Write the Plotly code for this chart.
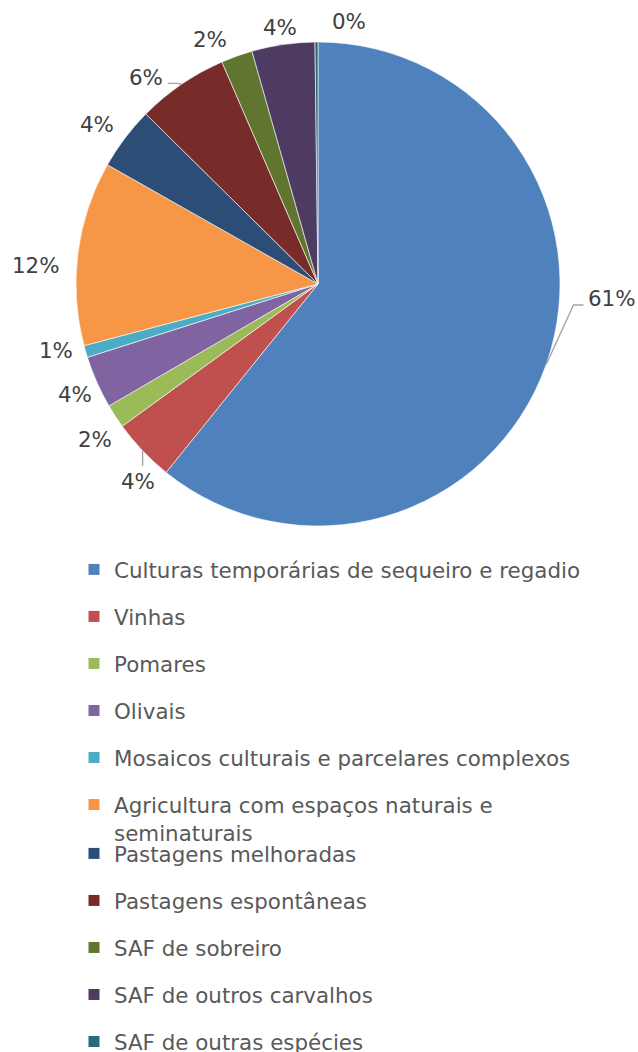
import math
import plotly.graph_objects as go

# Land-use classes and their share of area (%)
categories = [
    "Culturas temporárias de sequeiro e regadio",
    "Vinhas",
    "Pomares",
    "Olivais",
    "Mosaicos culturais e parcelares complexos",
    "Agricultura com espaços naturais e<br>seminaturais",
    "Pastagens melhoradas",
    "Pastagens espontâneas",
    "SAF de sobreiro",
    "SAF de outros carvalhos",
    "SAF de outras espécies",
]
shares = [60.8, 4.2, 1.6, 3.5, 0.8, 12.3, 4.2, 6.1, 2.1, 4.2, 0.2]
colors = [
    "#4F81BD", "#C0504D", "#9BBB59", "#8064A2", "#4BACC6", "#F79646",
    "#2C4D75", "#772C2A", "#5F7530", "#4D3B62", "#276A7C",
]

W, H = 638, 1052
cx, cy, r = 318, 284, 242          # pie centre and radius, px
LABEL_SIZE = 21.4
LABEL_GAP = 12                     # clearance between rim and label box
# extra displacement (px) for labels moved away from crowded spots
label_nudge = [(31, -78), (15, 12), (5, 7), (6, 0), (-1, -9), (-6, 17),
               (-5, 4), (-22, 13), (-19, 5), (0, 5), (33, 1)]
# labels joined to their slice by a leader line, and the label side it meets
leader_side = {0: "left", 1: "top", 7: "right"}


def px(x, y):
    return x / W, 1 - y / H


fig = go.Figure()
fig.add_trace(go.Pie(
    labels=categories,
    values=shares,
    sort=False,
    direction="clockwise",
    rotation=0,
    marker=dict(colors=colors, line=dict(color="white", width=0.6)),
    textinfo="none",
    showlegend=False,
    hoverinfo="label+percent",
    domain=dict(x=[(cx - r) / W, (cx + r) / W], y=[1 - (cy + r) / H, 1 - (cy - r) / H]),
))

# Percentage labels placed outside the rim at each slice's mid-angle
total = sum(shares)
cum = 0.0
annotations, shapes = [], []
for i, v in enumerate(shares):
    frac = v / total
    theta = 2 * math.pi * (cum + frac / 2)
    cum += frac
    s, c = math.sin(theta), math.cos(theta)
    text = f"{round(100 * frac)}%"
    w = sum(0.636 if ch.isdigit() else 0.951 for ch in text) * LABEL_SIZE
    hh = 10
    ext = min((w / 2) / abs(s) if abs(s) > 1e-6 else 1e9,
              hh / abs(c) if abs(c) > 1e-6 else 1e9)
    d = r + LABEL_GAP + ext
    lx = cx + d * s + label_nudge[i][0]
    ly = cy - d * c + label_nudge[i][1]
    ax, ay = px(lx, ly)
    annotations.append(dict(
        x=ax, y=ay, xref="paper", yref="paper", text=text, showarrow=False,
        xanchor="center", yanchor="middle",
        font=dict(family="DejaVu Sans", size=LABEL_SIZE, color="#404040"),
    ))
    if i in leader_side:
        rx, ry = cx + r * s, cy - r * c
        side = leader_side[i]
        if side == "left":
            ex, ey = lx - w / 2 - 5, ly + 6
            pts = [(rx, ry), (ex - 10, ey), (ex, ey)]
        elif side == "right":
            ex, ey = lx + w / 2 + 5, ly + 6
            pts = [(rx, ry), (ex + 10, ey), (ex, ey)]
        else:
            pts = [(rx, ry), (rx, ly - hh - 5)]
        path = "M " + " L ".join(f"{px(x, y)[0]:.5f},{px(x, y)[1]:.5f}" for x, y in pts)
        shapes.append(dict(type="path", xref="paper", yref="paper", path=path,
                           line=dict(color="#A6A6A6", width=1.4)))

# Legend entries, split in two blocks so the wrapped label does not push the rest down
for i, (name, col) in enumerate(zip(categories, colors)):
    fig.add_trace(go.Scatter(
        x=[None], y=[None], mode="markers",
        marker=dict(symbol="square", size=11, color=col),
        name=name, legendgroup=name,
        legend="legend" if i < 6 else "legend2",
        showlegend=True, hoverinfo="skip",
    ))

legend_style = dict(
    font=dict(family="DejaVu Sans", size=21.4, color="#595959"),
    xanchor="left", yanchor="top", valign="top",
    tracegroupgap=16.2, bgcolor="rgba(0,0,0,0)", borderwidth=0,
    itemclick=False, itemdoubleclick=False,
)
fig.update_layout(
    width=W, height=H,
    margin=dict(l=0, r=0, t=0, b=0, autoexpand=False),
    paper_bgcolor="white", plot_bgcolor="white",
    xaxis=dict(visible=False), yaxis=dict(visible=False),
    legend=dict(x=74 / W, y=1 - 549 / H, **legend_style),
    legend2=dict(x=74 / W, y=1 - 833 / H, **legend_style),
    annotations=annotations,
    shapes=shapes,
)

fig.write_html("out.html")
